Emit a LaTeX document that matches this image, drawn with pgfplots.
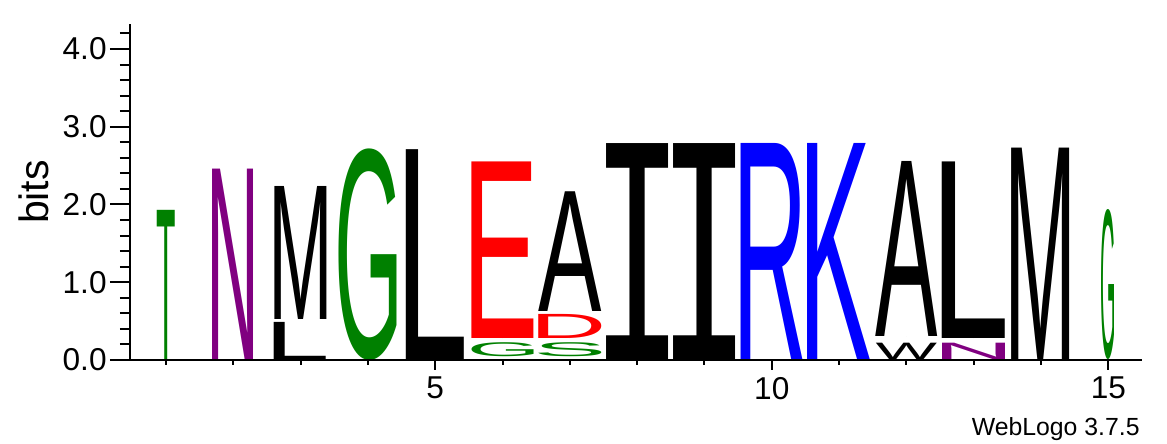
\documentclass[border=0pt]{standalone}
\usepackage{fontspec}
\setmainfont{Liberation Sans}
\newfontfamily\lfont{Liberation Sans}
\newfontfamily\ifont{DejaVu Sans Mono}
\usepackage{graphicx}
\usepackage{pgfplots}
\pgfplotsset{compat=1.18}
\usepackage{pgfplotstable}

\definecolor{wgreen}{RGB}{0,128,0}
\definecolor{wred}{RGB}{255,0,0}
\definecolor{wblue}{RGB}{0,0,255}
\definecolor{wpurple}{RGB}{128,0,128}
\definecolor{wblack}{RGB}{0,0,0}

% one letter, trimmed to its ink width
\newcount\gidx
\newcommand\inkbox[1]{%
  \if#1I\ifont\else\lfont\fi
  \gidx=\XeTeXcharglyph`#1\relax
  \kern-\XeTeXglyphbounds1 \gidx #1\kern-\XeTeXglyphbounds3 \gidx}

% col = position, w = stack width (px), bot/top in bits
\pgfplotstableread{
col ch w  bot  top
3   L  52 0.00 0.49
3   M  52 0.52 2.23
5   L  58 0.00 2.71
7   A  63 0.62 2.16
8   I  62 0.00 2.79
9   I  62 0.00 2.79
12  W  61 0.01 0.22
12  A  62 0.30 2.55
13  L  63 0.28 2.55
14  M  58 0.00 2.73
}\tblack
\pgfplotstableread{
col ch w  bot  top
1   T  18 0.00 1.93
4   G  58 0.00 2.72
6   G  62 0.04 0.22
7   S  63 0.04 0.22
15  G  13 0.00 1.93
}\tgreen
\pgfplotstableread{
col ch w  bot  top
6   E  62 0.28 2.55
7   D  63 0.28 0.59
}\tred
\pgfplotstableread{
col ch w  bot  top
2   N  41 0.00 2.46
13  N  63 0.01 0.22
}\tpurple
\pgfplotstableread{
col ch w  bot  top
10  R  62 0.00 2.79
11  K  63 0.00 2.79
}\tblue

\pgfplotsset{
  logo/.style={only marks, mark=*, mark size=0pt, mark options={draw=none,fill=none},
    point meta=explicit symbolic,
    visualization depends on={\thisrow{w}*0.5 \as \wid},
    visualization depends on={(\thisrow{top}-\thisrow{bot})*38.875 \as \hgt},
    nodes near coords={\resizebox*{\wid pt}{\hgt pt}{\expandafter\inkbox\expandafter{\pgfplotspointmeta}}},
    every node near coord/.append style={anchor=south, inner sep=0pt, outer sep=0pt, text=#1}},
  base/.style={scale only axis, width=506pt, height=167.94pt,
    xmin=0.465, xmax=15.5, ymin=0, ymax=4.32,
    axis line style={-, line width=1pt},
    tick style={line width=1pt, black},
    tick align=outside,
    /pgf/number format/assume math mode=true,
    tick label style={font=\fontsize{15.8}{18}\selectfont}}
}

\begin{document}
\begin{tikzpicture}
\path[use as bounding box] (-65pt,-42pt) rectangle (518.5pt,180pt);
\begin{axis}[base, at={(0,0)}, anchor=south west,
    axis x line=none, axis y line*=left,
    xtick=\empty,
    ytick={0,1,2,3,4},
    minor ytick={0.2,0.4,0.6,0.8,1.2,1.4,1.6,1.8,2.2,2.4,2.6,2.8,3.2,3.4,3.6,3.8,4.2},
    major tick length=10pt, minor tick length=5pt,
    yticklabel style={inner sep=1.5pt, /pgf/number format/fixed,
      /pgf/number format/fixed zerofill, /pgf/number format/precision=1},
    ylabel={bits},
    every axis y label/.style={at={(axis description cs:-0.0949,0.5)}, rotate=90,
      anchor=center, font=\fontsize{20.5}{24}\selectfont},
  ]
\addplot[logo=wblack] table[x=col,y=bot,meta=ch] {\tblack};
\addplot[logo=wgreen] table[x=col,y=bot,meta=ch] {\tgreen};
\addplot[logo=wred] table[x=col,y=bot,meta=ch] {\tred};
\addplot[logo=wpurple] table[x=col,y=bot,meta=ch] {\tpurple};
\addplot[logo=wblue] table[x=col,y=bot,meta=ch] {\tblue};
\end{axis}
\begin{axis}[base, at={(0,0)}, anchor=south west, clip=false,
    axis y line=none, axis x line*=bottom,
    ytick=\empty,
    xtick={5,10,15},
    minor xtick={1,2,3,4,6,7,8,9,11,12,13,14},
    major tick length=5pt, minor tick length=2.5pt,
  ]
\addplot[draw=none, forget plot] coordinates {(1,0) (15,0)};
\node[anchor=base east, inner sep=0pt, font=\fontsize{12.4}{15}\selectfont]
  at (axis description cs:0.998,-0.2233) {WebLogo 3.7.5};
\end{axis}
\end{tikzpicture}
\end{document}
